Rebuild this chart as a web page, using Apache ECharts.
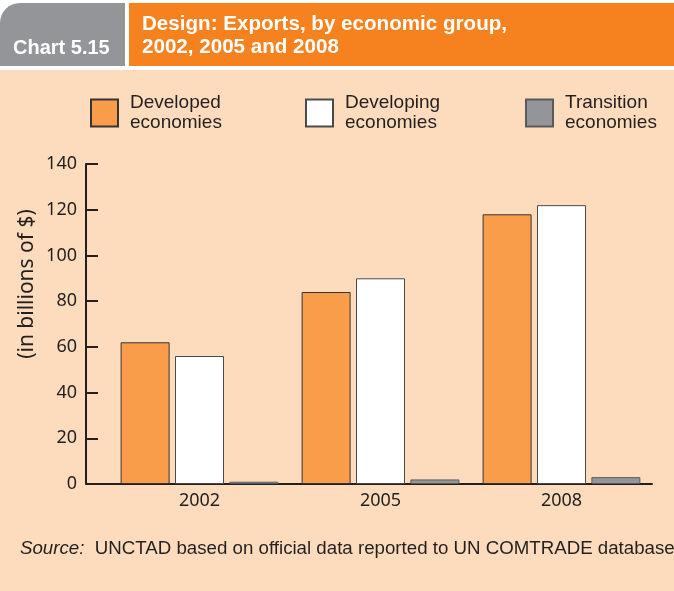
<!DOCTYPE html>
<html>
<head>
<meta charset="utf-8">
<script src="https://cdn.jsdelivr.net/npm/echarts@6/dist/echarts.min.js"></script>
<style>
  html, body { margin: 0; padding: 0; background: #fff; }
  #chart { width: 674px; height: 591px; }
</style>
</head>
<body>
<div id="chart"></div>
<script>
// values (billions of $)
const years = ['2002', '2005', '2008']
const developed = [62, 84, 118]
const developing = [56, 90, 122]
const transition = [1, 2, 3]

const groupNames = ['Developed economies', 'Developing economies', 'Transition economies']
const groupColors = ['#F99D4B', '#FFFFFF', '#939598']
const groupBorders = ['#3A3335', '#4A4A4A', '#5A5A5C']

const ink = '#231F20'
const peach = '#FDDCBD'
const sans = '"Liberation Sans", Arial, sans-serif'
const axisFont = '"Noto Sans", sans-serif'

const chart = echarts.init(document.getElementById('chart'), null, { renderer: 'canvas' })

function makeLegend(name, left) {
  return {
    data: [name],
    left: left,
    top: 93,
    padding: 0,
    icon: 'rect',
    itemWidth: 27,
    itemHeight: 27,
    selectedMode: false,
    formatter: n => n.replace(' ', '\n'),
    textStyle: {
      fontFamily: sans,
      fontSize: 19,
      lineHeight: 20,
      color: ink,
      padding: [0, 0, 0, 7]
    }
  }
}

function makeSeries(i, values) {
  return {
    name: groupNames[i],
    type: 'bar',
    data: values,
    barWidth: 49,
    barGap: '11%',
    itemStyle: {
      color: groupColors[i],
      borderColor: groupBorders[i],
      borderWidth: 1
    },
    emphasis: { disabled: true }
  }
}

const option = {
  backgroundColor: peach,
  animation: false,
  legend: [
    makeLegend(groupNames[0], 90),
    makeLegend(groupNames[1], 305),
    makeLegend(groupNames[2], 525)
  ],
  grid: { left: 109, right: 22, top: 164, bottom: 107, containLabel: false },
  xAxis: {
    type: 'category',
    data: years,
    axisLine: { lineStyle: { color: ink, width: 2 } },
    axisTick: {
      inside: true,
      length: 8,
      lineStyle: { color: ink, width: 2 },
      interval: (index) => index !== 0
    },
    axisLabel: { fontFamily: axisFont, fontSize: 18, color: ink, margin: 8 }
  },
  yAxis: {
    type: 'value',
    min: 0,
    max: 140,
    interval: 20,
    offset: 23,
    axisLine: { show: true, lineStyle: { color: ink, width: 2 } },
    axisTick: { show: true, inside: true, length: 12, lineStyle: { color: ink, width: 2 } },
    axisLabel: { fontFamily: axisFont, fontSize: 18, color: ink, margin: 9 },
    splitLine: { show: false }
  },
  series: [
    makeSeries(0, developed),
    makeSeries(1, developing),
    makeSeries(2, transition)
  ],
  graphic: [
    // white band behind the header
    { type: 'rect', shape: { x: 0, y: 0, width: 674, height: 70 }, style: { fill: '#fff' }, silent: true },
    { type: 'rect', shape: { x: 0, y: 3, width: 125, height: 63, r: [20, 0, 0, 0] }, style: { fill: '#939598' }, silent: true },
    { type: 'rect', shape: { x: 129, y: 3, width: 545, height: 63 }, style: { fill: '#F5821F' }, silent: true },
    {
      type: 'text', x: 13, y: 48, silent: true,
      style: { text: 'Chart 5.15', fill: '#fff', font: 'bold 20px ' + sans, verticalAlign: 'middle' }
    },
    {
      type: 'text', x: 142, y: 13, silent: true,
      style: {
        text: 'Design: Exports, by economic group,\n2002, 2005 and 2008',
        fill: '#fff', font: 'bold 20.6px ' + sans, lineHeight: 23, verticalAlign: 'top'
      }
    },
    // extends the base line under the offset y axis
    { type: 'line', shape: { x1: 86, y1: 484, x2: 110, y2: 484 }, style: { stroke: ink, lineWidth: 2 }, silent: true },
    {
      type: 'text', x: 27, y: 284, rotation: Math.PI / 2, silent: true,
      style: { text: '(in billions of $)', fill: ink, font: '21px ' + axisFont, align: 'center', verticalAlign: 'middle' }
    },
    {
      type: 'text', x: 20, y: 549, silent: true,
      style: {
        text: '{i|Source:}  UNCTAD based on official data reported to UN COMTRADE database',
        fill: ink, font: '18.7px ' + sans, verticalAlign: 'middle',
        rich: { i: { fontStyle: 'italic', fontFamily: sans, fontSize: 18.7, fill: ink } }
      }
    }
  ]
}

chart.setOption(option)
</script>
</body>
</html>
